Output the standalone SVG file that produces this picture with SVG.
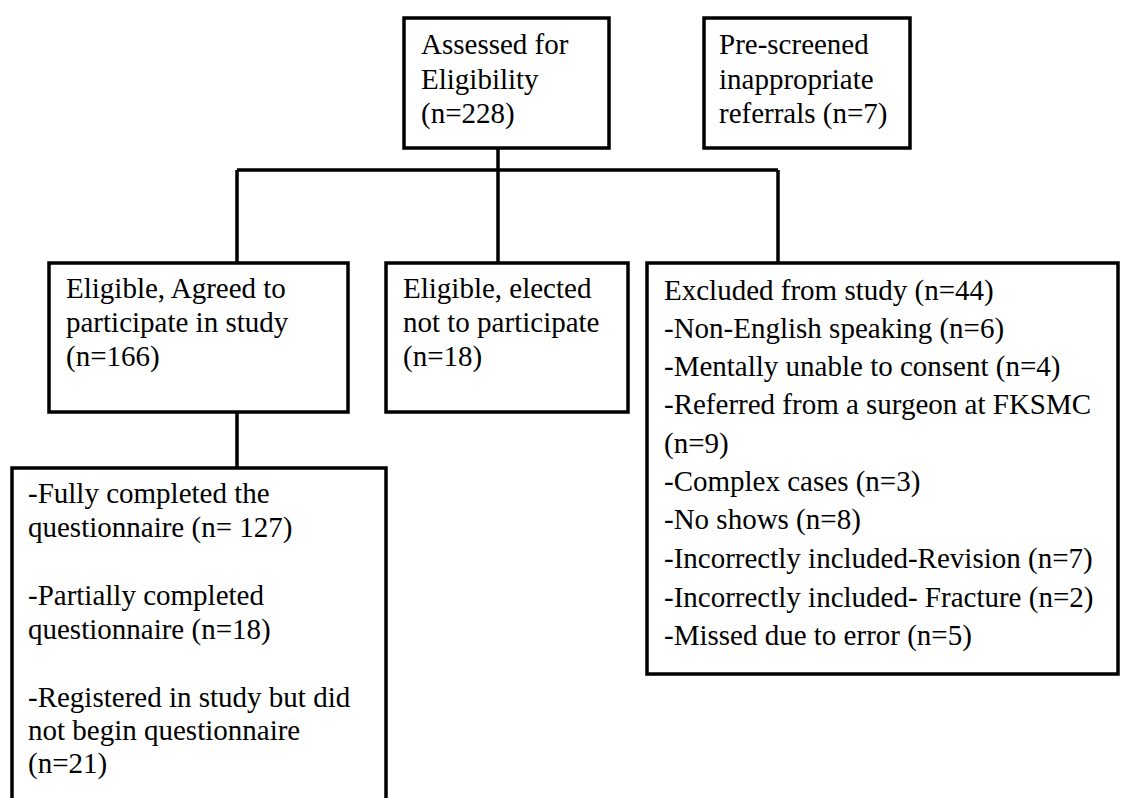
<svg xmlns="http://www.w3.org/2000/svg" width="1121" height="798" viewBox="0 0 1121 798">
<style>
.box{fill:#fff;stroke:#000;stroke-width:3.5}
.t{font-family:"Liberation Serif","Times New Roman",serif;font-size:29px;fill:#000}
.c{fill:none;stroke:#000;stroke-width:3.5}
</style>
<rect width="1121" height="798" fill="#fff"/>
<g id="connectors">
<path class="c" d="M498 148V263M237 170H778M237 170V263M778 170V263M237 412V468"/>
</g>
<g id="assessed">
<rect class="box" x="404" y="18" width="205" height="130"/>
<text class="t"><tspan x="421" y="54">Assessed for</tspan><tspan x="421" y="89">Eligibility</tspan><tspan x="421" y="123">(n=228)</tspan></text>
</g>
<g id="prescreened">
<rect class="box" x="704" y="18" width="206" height="130"/>
<text class="t"><tspan x="719" y="54">Pre-screened</tspan><tspan x="719" y="89">inappropriate</tspan><tspan x="719" y="123">referrals (n=7)</tspan></text>
</g>
<g id="agreed">
<rect class="box" x="49" y="263" width="299" height="149"/>
<text class="t"><tspan x="66" y="298">Eligible, Agreed to</tspan><tspan x="66" y="332">participate in study</tspan><tspan x="66" y="366">(n=166)</tspan></text>
</g>
<g id="declined">
<rect class="box" x="386" y="263" width="242" height="149"/>
<text class="t"><tspan x="403" y="298">Eligible, elected</tspan><tspan x="403" y="332">not to participate</tspan><tspan x="403" y="366">(n=18)</tspan></text>
</g>
<g id="excluded">
<rect class="box" x="647" y="263" width="471" height="411"/>
<text class="t"><tspan x="664" y="300">Excluded from study (n=44)</tspan><tspan x="664" y="338">-Non-English speaking (n=6)</tspan><tspan x="664" y="376">-Mentally unable to consent (n=4)</tspan><tspan x="664" y="414">-Referred from a surgeon at FKSMC</tspan><tspan x="664" y="453">(n=9)</tspan><tspan x="664" y="491">-Complex cases (n=3)</tspan><tspan x="664" y="529">-No shows (n=8)</tspan><tspan x="664" y="568">-Incorrectly included-Revision (n=7)</tspan><tspan x="664" y="607">-Incorrectly included- Fracture (n=2)</tspan><tspan x="664" y="645">-Missed due to error (n=5)</tspan></text>
</g>
<g id="participants">
<rect class="box" x="12" y="468" width="374" height="340"/>
<text class="t"><tspan x="28" y="503">-Fully completed the</tspan><tspan x="28" y="537">questionnaire (n= 127)</tspan><tspan x="28" y="605">-Partially completed</tspan><tspan x="28" y="639">questionnaire (n=18)</tspan><tspan x="28" y="707">-Registered in study but did</tspan><tspan x="28" y="740">not begin questionnaire</tspan><tspan x="28" y="773">(n=21)</tspan></text>
</g>
</svg>
